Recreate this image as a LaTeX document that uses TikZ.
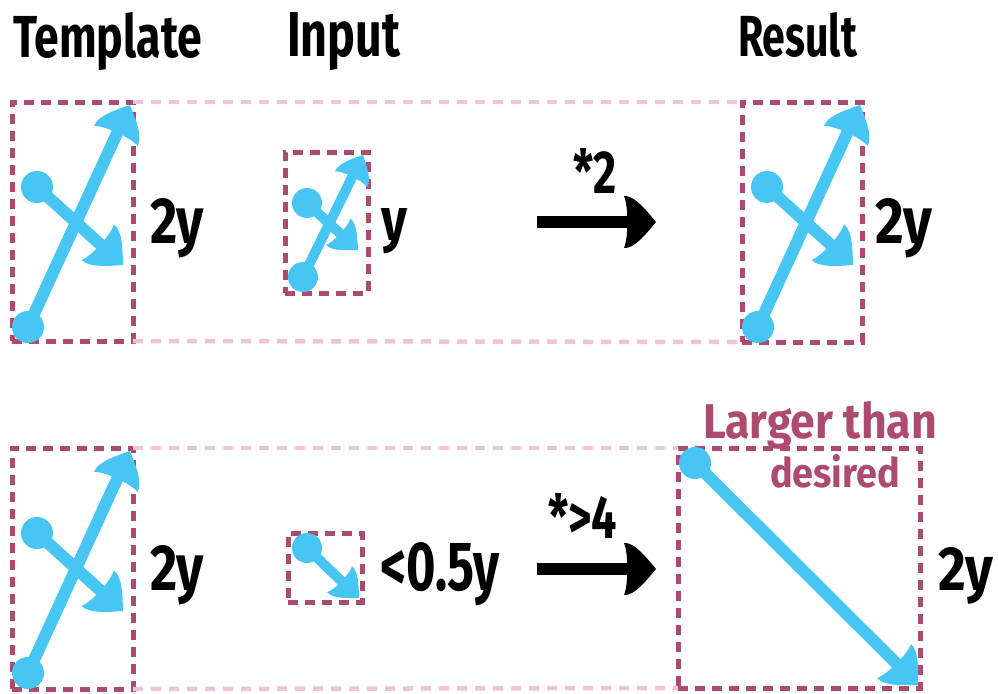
\documentclass[tikz,border=0pt]{standalone}
\usepackage{fontspec}
\usepackage{graphicx}
\setmainfont{Fira Sans}
\usetikzlibrary{arrows.meta}
\definecolor{dpink}{HTML}{AD4A6F}
\definecolor{lpink}{HTML}{EFC3DA}
\definecolor{sky}{HTML}{47C6F3}
\newcommand\rtxt[3]{\resizebox{#1pt}{#2pt}{\bfseries #3}}
\pgfdeclarearrow{
  name = Leaf,
  parameters = {\the\pgfarrowlength,\the\pgfarrowwidth},
  setup code = {
    \pgfarrowssettipend{0pt}
    \pgfarrowssetbackend{-\pgfarrowlength}
    \pgfarrowssetlineend{-0.7\pgfarrowlength}
    \pgfarrowshullpoint{0pt}{0pt}
    \pgfarrowsupperhullpoint{-\pgfarrowlength}{0.5\pgfarrowwidth}
    \pgfarrowssavethe\pgfarrowlength
    \pgfarrowssavethe\pgfarrowwidth
  },
  drawing code = {
    \pgfpathmoveto{\pgfpointorigin}
    \pgfpathcurveto{\pgfqpoint{-0.3\pgfarrowlength}{0.22\pgfarrowwidth}}{\pgfqpoint{-0.68\pgfarrowlength}{0.52\pgfarrowwidth}}{\pgfqpoint{-\pgfarrowlength}{0.5\pgfarrowwidth}}
    \pgfpathcurveto{\pgfqpoint{-0.86\pgfarrowlength}{0.3\pgfarrowwidth}}{\pgfqpoint{-0.86\pgfarrowlength}{-0.3\pgfarrowwidth}}{\pgfqpoint{-\pgfarrowlength}{-0.5\pgfarrowwidth}}
    \pgfpathcurveto{\pgfqpoint{-0.68\pgfarrowlength}{-0.52\pgfarrowwidth}}{\pgfqpoint{-0.3\pgfarrowlength}{-0.22\pgfarrowwidth}}{\pgfpointorigin}
    \pgfpathclose
    \pgfusepathqfill
  },
  defaults = {length=30pt, width=46pt}
}
\begin{document}
\begin{tikzpicture}[x=1pt,y=-1pt,
  dbox/.style={draw=dpink, line width=5pt, dash pattern=on 10pt off 7pt, inner sep=0pt, outer sep=0pt, anchor=north west},
  lline/.style={draw=lpink, line width=4.5pt, dash pattern=on 10pt off 8pt},
  dot/.style={circle, fill=sky, minimum size=32pt, inner sep=0pt, outer sep=0pt},
  sdot/.style={dot, minimum size=30pt},
  barrow/.style={draw=sky, line width=12pt, -{Leaf[length=34pt,width=48pt]}},
  sarrow/.style={draw=sky, line width=10pt, -{Leaf[length=27pt,width=36pt]}},
  karrow/.style={draw=black, line width=12pt, -{Leaf[length=32pt,width=52pt]}},
  lbl/.style={anchor=base west, inner sep=0pt, outer sep=0pt, text=black},
  plbl/.style={lbl, text=dpink}
]
\useasboundingbox (0,0) rectangle (998,693);

% headers
\node[lbl] (h1) at (13,57) {\rtxt{189}{45}{Template}};
\node[lbl] (h2) at (287,57) {\rtxt{113}{44}{Input}};
\node[lbl] (h3) at (738,57) {\rtxt{119}{44}{Result}};

% ---------- top row ----------
\node[dbox, minimum width=121pt, minimum height=239pt] (tb1) at (12,102) {};
\node[dbox, minimum width=83pt, minimum height=141pt] (ib1) at (285,152) {};
\node[dbox, minimum width=120pt, minimum height=240pt] (rb1) at (742,102) {};
\draw[lline] (tb1.north east) -- (rb1.north west);
\draw[lline] (tb1.south east) -- (rb1.south west);

% template arrows
\node[dot] (ta1) at (28,327) {};
\coordinate (tt1) at (130,105);
\draw[barrow] (ta1.center) -- (tt1);
\node[dot] (ta2) at (37,187) {};
\coordinate (tt2) at (123,265);
\draw[barrow] (ta2.center) -- (tt2);

% input arrows
\node[sdot] (ia1) at (303,277) {};
\coordinate (it1) at (363,155);
\draw[sarrow] (ia1.center) -- (it1);
\node[sdot] (ia2) at (307,203) {};
\coordinate (it2) at (358,250);
\draw[sarrow] (ia2.center) -- (it2);

% result arrows
\node[dot] (ra1) at (758,327) {};
\coordinate (rt1) at (860,105);
\draw[barrow] (ra1.center) -- (rt1);
\node[dot] (ra2) at (767,187) {};
\coordinate (rt2) at (853,265);
\draw[barrow] (ra2.center) -- (rt2);

\node[lbl] (l1) at (150,243) {\rtxt{54}{45}{2y}};
\node[lbl] (l2) at (381,240) {\rtxt{26}{32}{y}};
\node[lbl] (l4) at (875,243) {\rtxt{57}{45}{2y}};

\coordinate (k1s) at (537,222);
\coordinate (k1e) at (656,222);
\draw[karrow] (k1s) -- (k1e);
\node[lbl] (l3) at (573,193) {\rtxt{44}{45}{*2}};

% ---------- bottom row ----------
\node[dbox, minimum width=121pt, minimum height=241pt] (tb2) at (12,448) {};
\node[dbox, minimum width=74pt, minimum height=69pt] (ib2) at (288,533) {};
\node[dbox, minimum width=242pt, minimum height=240pt] (rb2) at (678,448) {};
\draw[lline] (tb2.north east) -- (rb2.north west);
\draw[lline] (tb2.south east) -- (rb2.south west);

\node[dot] (tc1) at (28,673) {};
\coordinate (ts1) at (130,451);
\draw[barrow] (tc1.center) -- (ts1);
\node[dot] (tc2) at (37,533) {};
\coordinate (ts2) at (123,611);
\draw[barrow] (tc2.center) -- (ts2);

\node[sdot] (ic1) at (307,548) {};
\coordinate (is1) at (359,598);
\draw[sarrow] (ic1.center) -- (is1);

\node[dot] (rc1) at (695,463) {};
\coordinate (rs1) at (918,685);
\draw[barrow] (rc1.center) -- (rs1);

\node[lbl] (l5) at (150,590) {\rtxt{54}{45}{2y}};
\node[lbl] (l6) at (380,590) {\rtxt{120}{48}{<0.5y}};
\node[lbl] (l8) at (938,590) {\rtxt{55}{43}{2y}};

\coordinate (k2s) at (537,569);
\coordinate (k2e) at (656,569);
\draw[karrow] (k2s) -- (k2e);
\node[lbl] (l7) at (548,538) {\rtxt{69}{45}{*>4}};

\node[plbl] (p1) at (703,438) {\rtxt{234}{37}{\color{dpink}Larger than}};
\node[plbl] (p2) at (770,487) {\rtxt{130}{33}{\color{dpink}desired}};
\end{tikzpicture}
\end{document}
